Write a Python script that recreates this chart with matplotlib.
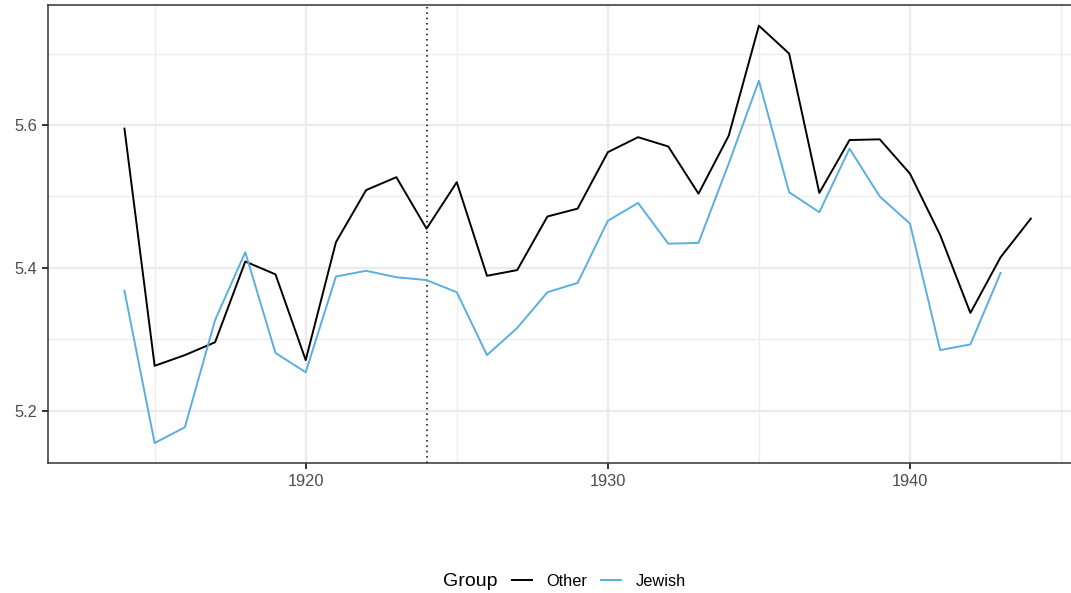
import numpy as np
import matplotlib.pyplot as plt
from matplotlib.lines import Line2D

plt.rcParams['font.family'] = ['Liberation Sans', 'DejaVu Sans']

# Datos
years_other = list(range(1914, 1945))
other = [5.595, 5.263, 5.278, 5.296, 5.409, 5.391, 5.271, 5.436, 5.509, 5.527,
         5.455, 5.520, 5.389, 5.397, 5.472, 5.483, 5.562, 5.583, 5.570, 5.504,
         5.585, 5.739, 5.700, 5.505, 5.579, 5.580, 5.532, 5.446, 5.337, 5.415,
         5.469]

years_jewish = list(range(1914, 1944))
jewish = [5.368, 5.155, 5.177, 5.327, 5.422, 5.281, 5.254, 5.388, 5.396, 5.387,
          5.383, 5.366, 5.278, 5.316, 5.366, 5.379, 5.466, 5.491, 5.434, 5.435,
          5.546, 5.662, 5.506, 5.478, 5.567, 5.500, 5.462, 5.285, 5.293, 5.393]

vline_year = 1924
x_major = [1920, 1930, 1940]
x_minor = [1915, 1925, 1935, 1945]
y_major = [5.2, 5.4, 5.6]
y_minor = [5.3, 5.5, 5.7]

azul = '#5AAEE0'

W, H = 1071, 593
fig = plt.figure(figsize=(W / 100, H / 100), dpi=100)
ax = fig.add_axes([48 / W, 1 - 463 / H, 1 - 48 / W, (463 - 5) / H])

ax.set_xlim(1911.47, 1945.33)
ax.set_ylim(5.127, 5.768)

ax.set_xticks(x_major)
ax.set_xticks(x_minor, minor=True)
ax.set_yticks(y_major)
ax.set_yticks(y_minor, minor=True)
ax.set_xticklabels([str(v) for v in x_major])
ax.set_yticklabels([f'{v:.1f}' for v in y_major])

ax.grid(True, which='major', color='#EBEBEB', lw=1.7)
ax.grid(True, which='minor', color='#EDEDED', lw=1.0)
ax.set_axisbelow(True)

ax.tick_params(which='major', length=4, width=1.4, color='#333333',
               labelsize=11.8, labelcolor='#4D4D4D', pad=4)
ax.tick_params(which='minor', length=0)

for s in ['left', 'bottom', 'top']:
    ax.spines[s].set_color('#333333')
    ax.spines[s].set_linewidth(1.1)
ax.spines['right'].set_visible(False)

ax.axvline(vline_year, color='black', ls=(0, (1, 2.5)), lw=1.1, zorder=2)
ax.plot(years_other, other, color='black', lw=1.4, zorder=3)
ax.plot(years_jewish, jewish, color=azul, lw=1.4, zorder=3)

# Leyenda abajo, estilo ggplot
ly = 1 - 581 / H
fig.text(443 / W, ly, 'Group', fontsize=14, va='center', ha='left', color='black')
handles = [Line2D([], [], color='black', lw=1.4),
           Line2D([], [], color=azul, lw=1.4)]
fig.legend(handles, ['Other', 'Jewish'], loc='center left',
           bbox_to_anchor=(512 / W, ly), ncol=2, frameon=False,
           fontsize=11.8, handlelength=1.2, handletextpad=0.9,
           columnspacing=0.85, borderpad=0, borderaxespad=0)

fig.savefig('out.png', dpi=100)
